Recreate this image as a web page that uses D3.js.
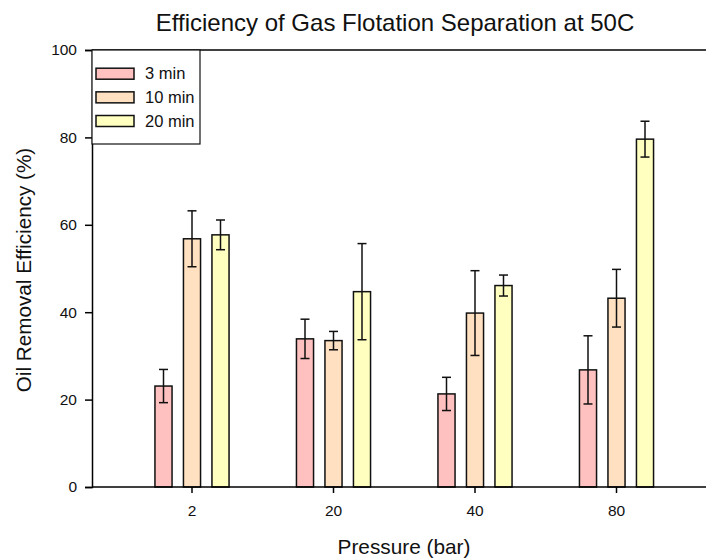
<!DOCTYPE html>
<html>
<head>
<meta charset="utf-8">
<script src="https://cdn.jsdelivr.net/npm/d3@7"></script>
<style>
  html, body { margin: 0; padding: 0; background: #fff; }
  svg { display: block; font-family: Arial, "Liberation Sans", sans-serif; }
</style>
</head>
<body>
<svg id="chart" width="706" height="558"></svg>
<script>
// Pressure levels on the x axis
const categories = ["2", "20", "40", "80"];
// Flotation times (legend series)
const seriesNames = ["3 min", "10 min", "20 min"];
// Mean oil removal efficiency (%) per series, one value per pressure
const eff3min  = [23.1, 33.9, 21.3, 26.8];
const eff10min = [56.8, 33.5, 39.8, 43.2];
const eff20min = [57.7, 44.7, 46.1, 79.6];
// Error (± %) per series
const err3min  = [3.8, 4.5, 3.8, 7.8];
const err10min = [6.4, 2.1, 9.7, 6.6];
const err20min = [3.4, 11.0, 2.4, 4.1];
// Y axis ticks
const yTicks = [0, 20, 40, 60, 80, 100];

const fills = ["#ffc0c0", "#ffe0c0", "#ffffc0"];
const values = [eff3min, eff10min, eff20min];
const errors = [err3min, err10min, err20min];

const svg = d3.select("#chart");
const plotLeft = 92, plotTop = 50, plotBottom = 487, plotRight = 706;

const y = d3.scaleLinear().domain([0, 100]).range([plotBottom, plotTop]);
const x = d3.scaleBand().domain(categories).range([121.25, 687.25]);
const xs = d3.scaleBand().domain(seriesNames).range([-42.75, 42.75]);
const barW = xs.bandwidth() * 0.6;

const rows = [];
seriesNames.forEach((s, si) => {
  categories.forEach((c, ci) => {
    rows.push({ s, si, c, v: values[si][ci], e: errors[si][ci] });
  });
});

// frame line along the top
svg.append("line").attr("x1", plotLeft).attr("x2", plotRight).attr("y1", plotTop).attr("y2", plotTop)
  .attr("stroke", "#000").attr("stroke-width", 1.5);

// bars
const cx = d => x(d.c) + x.bandwidth() / 2 + xs(d.s) + xs.bandwidth() / 2;
svg.append("g").selectAll("rect").data(rows).join("rect")
  .attr("x", d => cx(d) - barW / 2)
  .attr("y", d => y(d.v))
  .attr("width", barW)
  .attr("height", d => y(0) - y(d.v))
  .attr("fill", d => fills[d.si])
  .attr("stroke", "#111")
  .attr("stroke-width", 1.5);

// error bars
const eb = svg.append("g").attr("stroke", "#111").attr("stroke-width", 1.5);
eb.selectAll("line.v").data(rows).join("line").attr("class", "v")
  .attr("x1", cx).attr("x2", cx)
  .attr("y1", d => y(d.v + d.e)).attr("y2", d => y(d.v - d.e));
eb.selectAll("line.t").data(rows).join("line").attr("class", "t")
  .attr("x1", d => cx(d) - 4.5).attr("x2", d => cx(d) + 4.5)
  .attr("y1", d => y(d.v + d.e)).attr("y2", d => y(d.v + d.e));
eb.selectAll("line.b").data(rows).join("line").attr("class", "b")
  .attr("x1", d => cx(d) - 4.5).attr("x2", d => cx(d) + 4.5)
  .attr("y1", d => y(d.v - d.e)).attr("y2", d => y(d.v - d.e));

// y axis
const yAxis = svg.append("g").attr("transform", `translate(${plotLeft},0)`)
  .call(d3.axisLeft(y).tickValues(yTicks).tickSize(7).tickPadding(8));
yAxis.select(".domain").attr("stroke-width", 1.5);
yAxis.selectAll(".tick line").attr("stroke-width", 1.5);
yAxis.selectAll("text").attr("font-size", 15.5).attr("fill", "#111")
  .attr("font-family", "Arial, 'Liberation Sans', sans-serif");

// x axis
const xAxis = svg.append("g").attr("transform", `translate(0,${plotBottom})`)
  .call(d3.axisBottom(x).tickSize(6).tickPadding(12));
xAxis.select(".domain").remove();
xAxis.selectAll(".tick line").attr("stroke-width", 1.5);
xAxis.selectAll("text").attr("font-size", 15.5).attr("fill", "#111")
  .attr("font-family", "Arial, 'Liberation Sans', sans-serif");
svg.append("line").attr("x1", plotLeft).attr("x2", plotRight).attr("y1", plotBottom).attr("y2", plotBottom)
  .attr("stroke", "#000").attr("stroke-width", 1.5);

// legend
const lg = svg.append("g");
lg.append("rect").attr("x", plotLeft).attr("y", plotTop).attr("width", 108).attr("height", 94)
  .attr("fill", "#fff").attr("stroke", "#111").attr("stroke-width", 1.2);
seriesNames.forEach((s, i) => {
  const cy = 73.7 + i * 23.65;
  lg.append("rect").attr("x", 96).attr("y", cy - 5.5).attr("width", 38).attr("height", 11)
    .attr("fill", fills[i]).attr("stroke", "#111").attr("stroke-width", 1.5);
  lg.append("text").attr("x", 145).attr("y", cy).attr("dy", "0.35em")
    .attr("font-size", 16.5).attr("fill", "#111").text(s);
});

// titles
svg.append("text").attr("x", 395).attr("y", 31).attr("text-anchor", "middle")
  .attr("font-size", 24).attr("fill", "#111").text("Efficiency of Gas Flotation Separation at 50C");
svg.append("text").attr("x", 404).attr("y", 554).attr("text-anchor", "middle")
  .attr("font-size", 20.8).attr("fill", "#111").text("Pressure (bar)");
svg.append("text").attr("transform", "translate(31,270) rotate(-90)").attr("text-anchor", "middle")
  .attr("font-size", 20.7).attr("fill", "#111").text("Oil Removal Efficiency (%)");
</script>
</body>
</html>
